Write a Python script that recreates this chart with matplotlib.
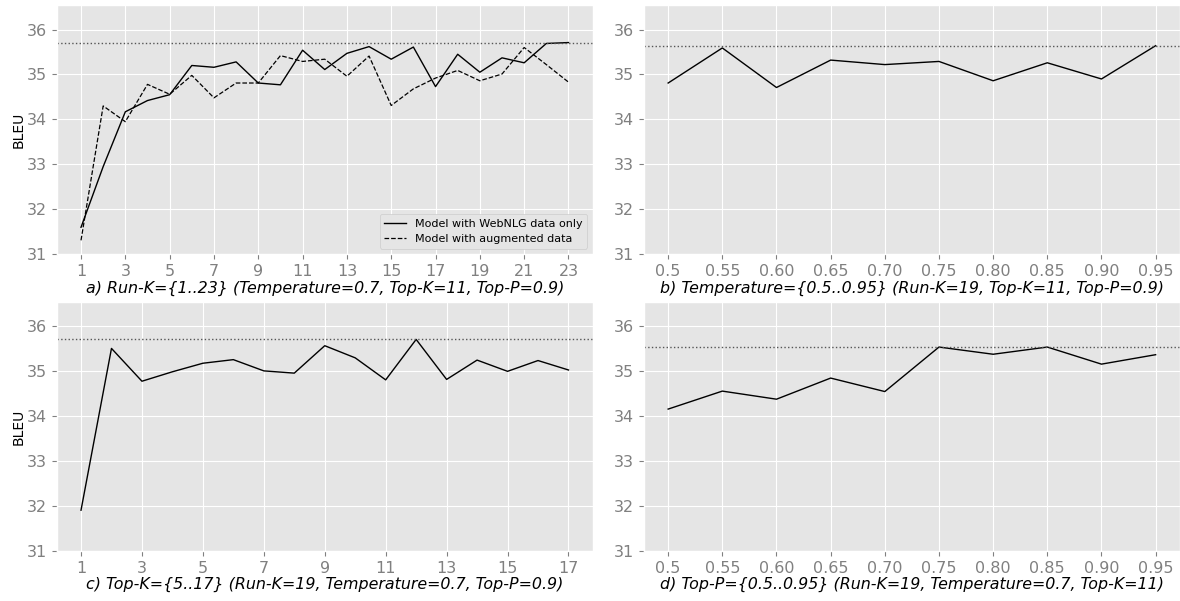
import matplotlib
matplotlib.use("Agg")
import matplotlib.pyplot as plt

plt.style.use("ggplot")

# === Data ===
run_k = list(range(1, 24))
bleu_webnlg = [31.60, 32.95, 34.17, 34.42, 34.55, 35.20, 35.16, 35.28, 34.81, 34.77,
               35.54, 35.11, 35.47, 35.62, 35.34, 35.61, 34.73, 35.45, 35.05, 35.37,
               35.26, 35.69, 35.71]
bleu_augmented = [31.31, 34.30, 33.95, 34.78, 34.56, 34.98, 34.48, 34.81, 34.81, 35.42,
                  35.29, 35.34, 34.96, 35.41, 34.31, 34.68, 34.92, 35.09, 34.86, 35.01,
                  35.60, 35.22, 34.83]
best_a = 35.71

temp_labels = ["0.5", "0.55", "0.60", "0.65", "0.70", "0.75", "0.80", "0.85", "0.90", "0.95"]
bleu_temp = [34.81, 35.59, 34.71, 35.32, 35.22, 35.29, 34.86, 35.26, 34.90, 35.64]
best_b = 35.63

top_k = list(range(1, 18))
bleu_topk = [31.91, 35.51, 34.78, 34.99, 35.18, 35.26, 35.01, 34.96, 35.57, 35.30,
             34.81, 35.71, 34.82, 35.25, 35.00, 35.24, 35.03]
best_c = 35.71

topp_labels = ["0.5", "0.55", "0.60", "0.65", "0.70", "0.75", "0.80", "0.85", "0.90", "0.95"]
bleu_topp = [34.16, 34.56, 34.38, 34.85, 34.55, 35.54, 35.38, 35.54, 35.16, 35.37]
best_d = 35.54

fig, axes = plt.subplots(2, 2, figsize=(11.8, 6.01), dpi=100)
plt.subplots_adjust(left=0.048, right=1.0, top=0.992, bottom=0.083, wspace=0.095, hspace=0.19)
(ax_a, ax_b), (ax_c, ax_d) = axes

tick_kw = dict(labelsize=11.5, colors="gray")
label_kw = dict(fontsize=11.4, style="italic", color="black")

# === a) Run-K ===
ax_a.plot(run_k, bleu_webnlg, '-', color="black", linewidth=1, label="Model with WebNLG data only")
ax_a.plot(run_k, bleu_augmented, '--', color="black", linewidth=0.9, label="Model with augmented data")
ax_a.axhline(best_a, color="#555555", linestyle=":", linewidth=1)
ax_a.set_xticks(run_k[::2])
ax_a.set_xlabel("a) Run-K={1..23} (Temperature=0.7, Top-K=11, Top-P=0.9)", labelpad=1, **label_kw)
ax_a.set_ylabel("BLEU", fontsize=10, color="black", labelpad=1)
ax_a.legend(loc="lower right", fontsize=8, facecolor="#E5E5E5", edgecolor="#CCCCCC", framealpha=1)

# === b) Temperature ===
ax_b.plot(range(len(temp_labels)), bleu_temp, '-', color="black", linewidth=1)
ax_b.axhline(best_b, color="#555555", linestyle=":", linewidth=1)
ax_b.set_xticks(range(len(temp_labels)))
ax_b.set_xticklabels(temp_labels)
ax_b.set_xlabel("b) Temperature={0.5..0.95} (Run-K=19, Top-K=11, Top-P=0.9)", labelpad=1, **label_kw)

# === c) Top-K ===
ax_c.plot(top_k, bleu_topk, '-', color="black", linewidth=1)
ax_c.axhline(best_c, color="#555555", linestyle=":", linewidth=1)
ax_c.set_xticks(top_k[::2])
ax_c.set_xlabel("c) Top-K={5..17} (Run-K=19, Temperature=0.7, Top-P=0.9)", labelpad=1, **label_kw)
ax_c.set_ylabel("BLEU", fontsize=10, color="black", labelpad=1)

# === d) Top-P ===
ax_d.plot(range(len(topp_labels)), bleu_topp, '-', color="black", linewidth=1)
ax_d.axhline(best_d, color="#555555", linestyle=":", linewidth=1)
ax_d.set_xticks(range(len(topp_labels)))
ax_d.set_xticklabels(topp_labels)
ax_d.set_xlabel("d) Top-P={0.5..0.95} (Run-K=19, Temperature=0.7, Top-K=11)", labelpad=1, **label_kw)

for ax in axes.flat:
    ax.set_ylim(31, 36.55)
    ax.set_yticks([31, 32, 33, 34, 35, 36])
    ax.tick_params(**tick_kw)

plt.savefig("out.png")
